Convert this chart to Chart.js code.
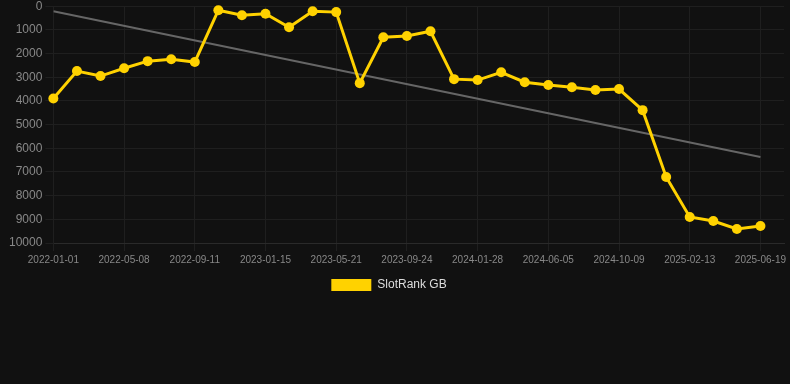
<!DOCTYPE html>
<html>
<head>
<meta charset="utf-8">
<script src="https://cdn.jsdelivr.net/npm/chart.js@4"></script>
<style>
  body { margin: 0; background: #111111; }
  #wrap { width: 790px; height: 305px; margin-top: -4px; }
</style>
</head>
<body>
<div id="wrap"><canvas id="myChart"></canvas></div>
<script>
// dates of each sample (only every third one is printed on the axis)
var dates = [
  "2022-01-01", "2022-02-12", "2022-03-27", "2022-05-08", "2022-06-19", "2022-07-31",
  "2022-09-11", "2022-10-23", "2022-12-04", "2023-01-15", "2023-02-26", "2023-04-09",
  "2023-05-21", "2023-07-02", "2023-08-13", "2023-09-24", "2023-11-05", "2023-12-17",
  "2024-01-28", "2024-03-10", "2024-04-21", "2024-06-05", "2024-07-17", "2024-08-28",
  "2024-10-09", "2024-11-20", "2025-01-01", "2025-02-13", "2025-03-27", "2025-05-08",
  "2025-06-19"
];
// rank values (lower is better, axis is reversed)
var rankGB = [
  3900, 2740, 2950, 2620, 2320, 2240, 2360, 170, 380, 320, 890, 210,
  250, 3250, 1310, 1260, 1060, 3080, 3120, 2790, 3210, 3330, 3420, 3540,
  3500, 4390, 7210, 8900, 9070, 9410, 9280
];
// trend line end values
var trendStart = 210;
var trendEnd = 6370;
var yTicks = [0, 1000, 2000, 3000, 4000, 5000, 6000, 7000, 8000, 9000, 10000];

// nudge the legend a little to the left, like the original
var legendShift = {
  id: "legendShift",
  afterLayout: function (chart) {
    chart.legend.left -= 9;
    chart.legend.right -= 9;
  },
};

window.onload = function () {
  var ctx = document.getElementById("myChart").getContext("2d");

  var points = rankGB.map(function (v, i) { return { x: i, y: v }; });
  var trend = [{ x: 0, y: trendStart }, { x: dates.length - 1, y: trendEnd }];

  var myChart = new Chart(ctx, {
    type: "line",
    data: {
      datasets: [
        {
          label: "SlotRank GB",
          data: points,
          borderColor: "#ffd200",
          backgroundColor: "#ffd200",
          borderWidth: 3,
          pointRadius: 5,
          pointHoverRadius: 6,
          pointBackgroundColor: "#ffd200",
          pointBorderWidth: 0,
          tension: 0,
          clip: false,
        },
        {
          label: "trend",
          data: trend,
          borderColor: "#666666",
          borderWidth: 2,
          pointRadius: 0,
          fill: false,
        },
      ],
    },
    plugins: [legendShift],
    options: {
      responsive: true,
      maintainAspectRatio: false,
      animation: false,
      layout: { padding: { left: 6 } },
      plugins: {
        legend: {
          position: "bottom",
          labels: {
            color: "#dddddd",
            boxWidth: 40,
            boxHeight: 12,
            font: { family: "'Liberation Sans', Arial", size: 12 },
            generateLabels: function (chart) {
              return [{
                text: "SlotRank GB",
                fillStyle: "#ffd200",
                strokeStyle: "#ffd200",
                lineWidth: 0,
                fontColor: "#dddddd",
                datasetIndex: 0,
              }];
            },
          },
        },
        tooltip: { enabled: false },
      },
      scales: {
        x: {
          type: "linear",
          min: 0,
          max: 31,
          grid: {
            color: function (c) {
              return c.tick && c.tick.value % 3 === 0 ? "#1f1f1f" : "transparent";
            },
          },
          border: { color: "#2a2a2a" },
          ticks: {
            stepSize: 3,
            includeBounds: false,
            maxRotation: 0,
            autoSkip: false,
            color: "#888888",
            font: { family: "'Liberation Sans', Arial", size: 10 },
            callback: function (v) {
              return Number.isInteger(v) && dates[v] ? dates[v] : "";
            },
          },
        },
        y: {
          reverse: true,
          min: 0,
          max: 10000,
          afterBuildTicks: function (axis) {
            axis.ticks = yTicks.map(function (v) { return { value: v }; });
          },
          grid: { color: "#1f1f1f" },
          border: { color: "#1f1f1f" },
          ticks: {
            color: "#888888",
            font: { family: "'Liberation Sans', Arial", size: 12 },
            callback: function (v) { return String(v); },
          },
        },
      },
    },
  });
};
</script>
</body>
</html>
